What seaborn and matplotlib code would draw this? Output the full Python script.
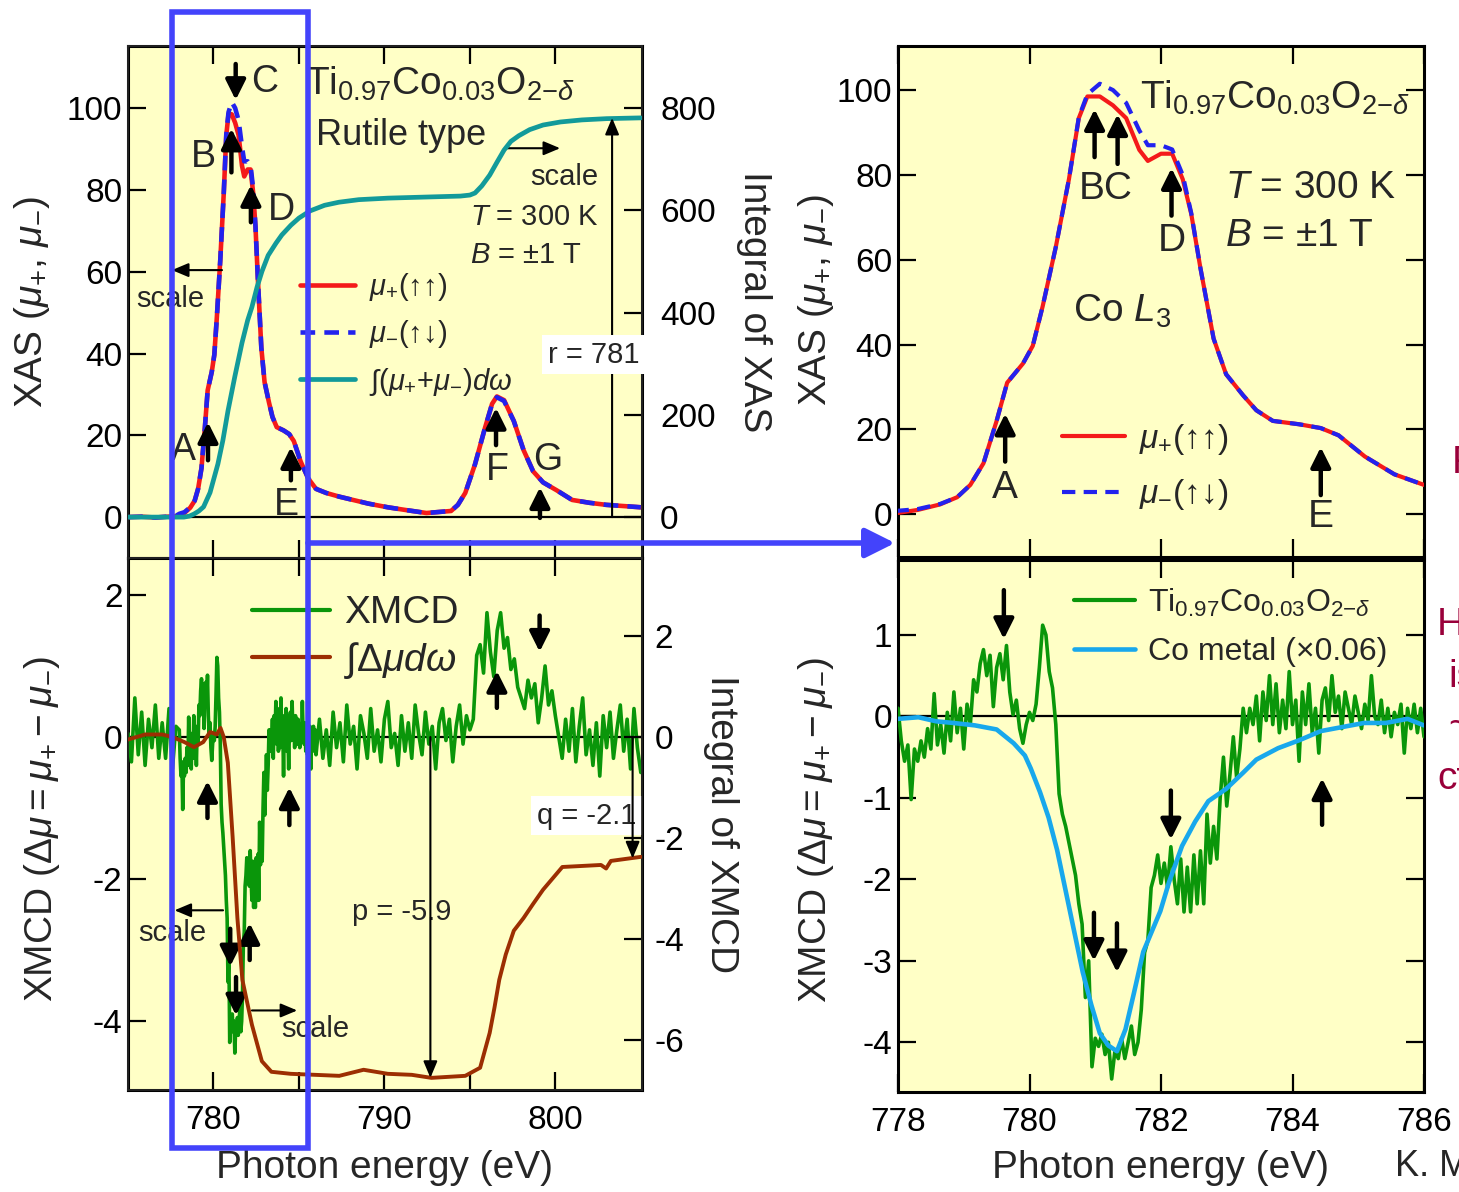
import numpy as np
import matplotlib
matplotlib.use("Agg")
import matplotlib.pyplot as plt
from matplotlib.lines import Line2D
from matplotlib.patches import Rectangle, FancyArrowPatch
import seaborn as sns

sns.set_theme(style="ticks")
plt.rcParams.update({
    "font.family": ["Liberation Sans", "DejaVu Sans"],
    "mathtext.fontset": "custom",
    "mathtext.rm": "Liberation Sans",
    "mathtext.it": "Liberation Sans:italic",
    "mathtext.bf": "Liberation Sans:bold",
    "axes.unicode_minus": False,
})

# ---------------- data ----------------
# Co L2,3 XAS for both magnetization directions (photon energy in eV)
xas_energy = [775.0, 775.8, 776.6, 777.3, 777.8, 778.0, 778.3, 778.64, 778.9, 779.1,
              779.3, 779.5, 779.66, 779.9, 780.05, 780.2, 780.4, 780.6, 780.75, 780.88,
              781.07, 781.27, 781.47, 781.67, 781.8, 782.0, 782.17, 782.33, 782.46, 782.6,
              782.8, 782.99, 783.25, 783.45, 783.7, 784.1, 784.43, 784.7, 785.1, 785.55,
              786.0, 786.6, 787.36, 789.06, 790.2, 791.3, 792.46, 793.9, 794.3, 794.73,
              795.3, 795.87, 796.3, 796.58, 797.0, 797.57, 798.14, 798.7, 799.28, 800.1,
              800.98, 802.0, 802.97, 804.0, 805.0]
mu_plus = [0.0, 0.1, -0.1, 0.1, 0.2, 0.3, 1.0, 2.3, 4.0, 6.9,
           12.0, 22.0, 31.0, 35.5, 39.7, 49.0, 63.0, 79.0, 93.4, 98.5,
           98.5, 96.4, 93.4, 85.9, 83.3, 85.0, 85.0, 79.0, 70.8, 58.0,
           41.4, 33.0, 28.0, 24.5, 22.0, 21.2, 20.3, 18.6, 13.6, 9.4,
           6.9, 5.9, 5.0, 3.3, 2.4, 1.7, 1.0, 1.5, 3.0, 5.9,
           12.9, 21.6, 27.7, 29.5, 28.6, 23.5, 16.4, 11.2, 8.5, 6.5,
           4.2, 3.5, 3.0, 2.7, 2.4]
mu_minus = [0.0, 0.1, -0.1, 0.1, 0.3, 0.8, 1.2, 2.4, 4.0, 6.9,
            12.0, 22.0, 31.0, 35.5, 39.7, 49.0, 63.0, 79.0, 93.6, 99.0,
            101.5, 100.0, 97.0, 90.5, 87.0, 87.0, 86.0, 80.0, 71.0, 58.0,
            41.4, 33.0, 28.0, 24.5, 22.0, 21.2, 20.3, 18.6, 13.6, 9.4,
            6.9, 5.9, 5.0, 3.3, 2.4, 1.7, 1.0, 1.5, 3.0, 5.9,
            12.9, 21.6, 27.7, 29.3, 28.4, 23.5, 16.4, 11.2, 8.5, 6.5,
            4.2, 3.5, 3.0, 2.7, 2.4]

# running integral of mu_+ + mu_-
int_xas_energy = [775.0, 778.27, 778.6, 778.86, 779.15, 779.42, 779.8, 780.26, 780.55, 780.85,
                  781.25, 781.67, 782.0, 782.25, 782.55, 782.84, 783.2, 783.66, 784.0, 784.53,
                  785.0, 785.65, 786.5, 787.34, 788.5, 790.21, 792.3, 794.45, 795.0, 795.3,
                  795.7, 796.16, 796.6, 797.0, 797.4, 797.86, 798.5, 799.28, 800.3, 801.55,
                  803.0, 805.0]
int_xas = [0, 0, 2, 6, 12, 20, 48, 104, 150, 208,
           275, 341, 385, 411, 450, 481, 512, 536, 552, 571,
           585, 599, 610, 616, 621, 624, 626, 628, 630, 634,
           648, 669, 695, 718, 735, 746, 758, 767, 773, 777,
           779.5, 781]

# XMCD = mu_+ - mu_-, sampled coarsely below/above the L3 edge and finely across it
xmcd_energy = np.concatenate([np.linspace(775.0, 777.8, 15),
                              np.linspace(778.0, 786.0, 161),
                              np.linspace(786.2, 805.0, 95)])
xmcd_pre = [0.05, -0.35, 0.55, -0.25, 0.35, -0.40, 0.25, -0.15, 0.45, -0.30,
            0.20, -0.30, 0.40, -0.45, 0.15]
xmcd_l3 = [0.10, -0.30, -0.55, -0.35, -1.02, -0.40, -0.55, -0.30, -0.50, -0.15,
           -0.40, 0.28, -0.35, -0.10, -0.45, 0.05, -0.30, 0.30, -0.20, 0.10,
           -0.40, 0.15, -0.10, 0.45, 0.30, 0.65, 0.82, 0.50, 0.75, 0.12,
           0.60, 0.77, 0.45, 0.87, 0.30, 0.02, 0.20, -0.15, -0.33, -0.10,
           0.05, -0.05, 0.15, 0.60, 1.12, 1.00, 0.55, 0.35, -0.10, -0.95,
           -1.20, -1.35, -1.55, -1.75, -1.95, -2.30, -2.55, -3.45, -3.00, -4.30,
           -3.95, -4.05, -3.90, -4.15, -4.00, -4.45, -4.10, -4.20, -3.95, -4.20,
           -4.00, -3.80, -4.15, -4.00, -3.60, -2.90, -2.75, -2.10, -1.95, -1.70,
           -2.05, -1.80, -2.10, -1.60, -2.00, -2.30, -1.75, -2.40, -1.85, -2.40,
           -1.70, -2.30, -1.65, -2.30, -1.20, -1.80, -1.35, -1.75, -1.00, -0.50,
           -1.10, -0.70, -0.25, -0.75, -0.40, 0.10, -0.20, 0.10, -0.10, 0.25,
           -0.30, 0.30, -0.05, 0.50, -0.10, 0.40, -0.20, 0.20, -0.15, 0.55,
           -0.10, 0.20, -0.55, 0.30, -0.10, 0.40, -0.20, 0.10, -0.45, 0.20,
           0.35, -0.05, 0.50, 0.05, 0.25, -0.15, 0.30, 0.10, -0.10, 0.25,
           0.05, -0.15, 0.15, -0.05, 0.50, 0.00, -0.10, 0.20, -0.20, 0.10,
           -0.25, 0.05, -0.10, 0.15, -0.45, 0.10, -0.15, 0.15, -0.20, 0.10,
           -0.25]
xmcd_post = [0.25, -0.30, 0.10, -0.40, 0.35, -0.15, 0.20, -0.35, 0.45, -0.10,
             0.15, -0.45, 0.30, 0.05, -0.30, 0.40, -0.20, 0.10, -0.35, 0.25,
             0.50, -0.15, 0.05, -0.40, 0.30, -0.20, 0.20, -0.30, 0.45, 0.05,
             -0.25, 0.35, -0.10, 0.15, -0.45, 0.20, 0.40, -0.05, 0.25, -0.35,
             0.15, 0.45, -0.10, 0.30, 0.10,
             0.25, 1.15, 1.30, 0.90, 1.75, 1.20, 0.85, 1.50, 1.75, 1.25,
             1.40, 0.95, 1.10, 0.70, 0.55, 0.40, 0.80, 0.55, 0.75, 0.20,
             0.55, 1.00, 0.45, 0.65, 0.30, 0.00,
             -0.30, 0.25, -0.20, 0.40, -0.35, 0.15, 0.55, -0.25, 0.10, -0.40,
             0.20, -0.55, 0.30, -0.15, 0.35, -0.30, 0.10, 0.45, -0.20, 0.25,
             -0.45, 0.40, -0.15, -0.50]
xmcd = np.array(xmcd_pre + xmcd_l3 + xmcd_post)

# running integral of the XMCD
int_xmcd_energy = [775.0, 776.0, 777.0, 777.6, 778.3, 778.86, 779.4, 779.8, 780.2, 780.41,
                   780.6, 780.84, 781.12, 781.4, 781.69, 782.25, 782.83, 783.39, 784.52, 787.36,
                   788.78, 790.2, 791.6, 792.75, 794.73, 795.6, 796.16, 796.44, 796.72, 797.1,
                   797.57, 798.14, 798.7, 799.28, 800.41, 802.67, 802.97, 803.25, 805.0]
int_xmcd = [-0.05, 0.05, 0.05, 0.0, -0.1, -0.2, -0.1, 0.1, 0.05, 0.18,
            0.0, -0.51, -1.97, -3.58, -4.8, -5.69, -6.41, -6.62, -6.66, -6.7,
            -6.58, -6.66, -6.68, -6.74, -6.7, -6.54, -5.85, -5.35, -4.8, -4.3,
            -3.83, -3.58, -3.3, -3.02, -2.57, -2.53, -2.6, -2.45, -2.37]

# Co metal reference XMCD (scaled by 0.06)
co_energy = [778.0, 778.31, 778.58, 778.84, 779.17, 779.5, 779.76, 779.93, 780.02, 780.16,
             780.29, 780.42, 780.55, 780.68, 780.81, 780.94, 781.07, 781.2, 781.33, 781.46,
             781.59, 781.73, 781.86, 781.99, 782.12, 782.32, 782.52, 782.72, 782.99, 783.25,
             783.45, 783.78, 784.11, 784.43, 784.76, 785.09, 785.42, 785.75, 786.0]
co_xmcd = [-0.03, -0.01, -0.06, -0.08, -0.11, -0.16, -0.33, -0.48, -0.64, -0.93,
           -1.24, -1.64, -2.14, -2.64, -3.14, -3.54, -3.89, -4.04, -4.11, -3.84,
           -3.39, -2.89, -2.64, -2.39, -2.04, -1.59, -1.29, -1.04, -0.89, -0.69,
           -0.53, -0.39, -0.29, -0.18, -0.13, -0.08, -0.08, -0.03, -0.11]

r_value = 781
p_label, q_label = -5.9, -2.1
p_depth, q_depth = -6.74, -2.40

# ---------------- styling ----------------
RED, BLUE, TEAL = "#f41a1a", "#2222ee", "#129a9a"
GREEN, BROWN, CYAN = "#0a960a", "#9c2e02", "#18a8ec"
BG = "#ffffc6"
FRAME_BLUE = "#4343fb"
MAROON = "#99003a"

W, H = 1459, 1192
fig = plt.figure(figsize=(W / 100, H / 100), dpi=100)


def add_axes_px(l, t, r, b):
    return fig.add_axes([l / W, 1 - b / H, (r - l) / W, (b - t) / H])


def frame(ax, right=True):
    ax.set_facecolor(BG)
    for s in ax.spines.values():
        s.set_linewidth(2.2)
        s.set_color("black")
    ax.tick_params(direction="in", length=13, width=1.6, labelsize=24,
                   top=True, bottom=True, left=True, right=right, colors="black")
    ax.tick_params(axis="x", pad=11)
    ax.tick_params(axis="y", pad=4)
    ax.grid(False)


def twin_frame(ax, pad):
    ax.tick_params(axis="y", direction="in", length=13, width=1.6, labelsize=24, pad=pad,
                   right=True, left=False, colors="black")
    ax.grid(False)


BIG = dict(arrowstyle="-|>,head_length=0.6,head_width=0.3", lw=3.2, color="black",
           mutation_scale=20, shrinkA=0, shrinkB=0)
SMALL = dict(arrowstyle="-|>,head_length=1.0,head_width=0.42", lw=1.5, color="black",
             mutation_scale=10, shrinkA=0, shrinkB=0)


def varrow(ax, x, y0, y1, props=BIG):
    ax.annotate("", xy=(x, y1), xytext=(x, y0), arrowprops=props)


def harrow(ax, y, x0, x1, props=SMALL):
    ax.annotate("", xy=(x1, y), xytext=(x0, y), arrowprops=props)


def line(ax, x, y, color, lw, dashes=None, z=3):
    sns.lineplot(x=x, y=y, ax=ax, color=color, linewidth=lw, estimator=None,
                 sort=False, legend=False, zorder=z)
    ln = ax.lines[-1]
    if dashes is not None:
        ln.set_dashes(dashes)
    return ln


formula = r"Ti$_{0.97}$Co$_{0.03}$O$_{2\mathrm{-}\delta}$"
mu_p_lab = r"$\mu_{+}$(↑↑)"
mu_m_lab = r"$\mu_{-}$(↑↓)"
DASH = (3.2, 2.0)

# ---------------- top left: XAS + integral ----------------
ax1 = add_axes_px(128, 46, 642, 558)
frame(ax1, right=False)
ax1.axhline(0, color="black", lw=1.6, zorder=1)
line(ax1, xas_energy, mu_plus, RED, 3.3)
line(ax1, xas_energy, mu_minus, BLUE, 3.3, DASH)
ax1.set_xlim(775.0, 805.07)
ax1.set_ylim(-10.0, 115.2)
ax1.set_xticks([780, 785, 790, 795, 800])
ax1.set_xticklabels([])
ax1.set_yticks([0, 20, 40, 60, 80, 100])
ax1.set_xlabel("")
ax1.set_ylabel(r"XAS ($\mu_{+}$, $\mu_{-}$)", fontsize=28)
ax1.yaxis.set_label_coords(-0.148, 0.5)

ax1r = ax1.twinx()
twin_frame(ax1r, 13)
line(ax1r, int_xas_energy, int_xas, TEAL, 3.4)
ax1r.set_ylim(-80, 921.6)
ax1r.set_yticks([0, 200, 400, 600, 800])
ax1r.set_ylabel("Integral of XAS", fontsize=28, rotation=270, va="bottom")
ax1r.yaxis.set_label_coords(1.183, 0.5)

for x, y0, y1 in [(781.3, 110.8, 102.0)]:
    varrow(ax1, x, y0, y1)
for x, y0, y1 in [(781.05, 84.3, 95.0), (782.19, 72.1, 81.2), (779.68, 13.9, 23.2),
                  (784.53, 9.0, 17.1), (796.53, 17.6, 26.7), (799.1, -0.2, 7.3)]:
    varrow(ax1, x, y0, y1)
for s, x, y in [("C", 783.0, 106.4), ("B", 779.4, 88.0), ("D", 784.0, 75.0), ("A", 778.22, 16.4),
                ("E", 784.24, 2.9), ("F", 796.59, 11.5), ("G", 799.57, 13.9)]:
    ax1.text(x, y, s, fontsize=27, ha="center", va="center")
ax1.text(785.35, 103.2, formula, fontsize=28, ha="left", va="baseline")
ax1.text(786.0, 91.0, "Rutile type", fontsize=26, ha="left", va="baseline")
harrow(ax1, 60.4, 780.5, 777.57)
ax1.text(777.45, 51.3, "scale", fontsize=21, ha="center", va="baseline")
harrow(ax1, 90.2, 797.06, 800.28)
ax1.text(800.51, 81.2, "scale", fontsize=21, ha="center", va="baseline")
ax1.text(795.01, 71.4, r"$T$ = 300 K", fontsize=21, ha="left", va="baseline")
ax1.text(795.01, 62.2, r"$B$ = ±1 T", fontsize=21, ha="left", va="baseline")
varrow(ax1r, 803.32, 0, r_value, SMALL)
ax1r.text(799.57, 37.8 * 8, f"r = {r_value}", fontsize=21, ha="left", va="baseline",
          bbox=dict(facecolor="white", edgecolor="none", pad=4), zorder=5)

h1 = [Line2D([], [], color=RED, lw=3.3),
      Line2D([], [], color=BLUE, lw=3.3, dashes=DASH),
      Line2D([], [], color=TEAL, lw=3.4)]
ax1r.legend(h1, [mu_p_lab, mu_m_lab, r"∫($\mu_{+}$+$\mu_{-}$)$d\omega$"],
            loc="upper left", bbox_to_anchor=(0.3346, 0.56), frameon=False,
            fontsize=21, handlelength=1.9, handletextpad=0.45,
            labelspacing=0.52, borderpad=0, borderaxespad=0)

# ---------------- bottom left: XMCD + integral ----------------
ax2 = add_axes_px(128, 558, 642, 1090)
frame(ax2, right=False)
ax2.axhline(0, color="black", lw=1.6, zorder=1)
line(ax2, xmcd_energy, xmcd, GREEN, 2.6)
ax2.set_xlim(775.0, 805.07)
ax2.set_ylim(-4.97, 2.52)
ax2.set_xticks([780, 785, 790, 795, 800])
ax2.set_xticklabels(["780", "", "790", "", "800"])
ax2.set_yticks([-4, -2, 0, 2])
ax2.set_xlabel("Photon energy (eV)", fontsize=28)
ax2.xaxis.set_label_coords(0.5, -0.113)
ax2.xaxis.label.set_va("top")
ax2.set_ylabel(r"XMCD ($\Delta\mu = \mu_{+} - \mu_{-}$)", fontsize=28)
ax2.yaxis.set_label_coords(-0.128, 0.49)

ax2r = ax2.twinx()
twin_frame(ax2r, 9)
line(ax2r, int_xmcd_energy, int_xmcd, BROWN, 2.8)
ax2r.set_ylim(-6.98, 3.54)
ax2r.set_yticks([-6, -4, -2, 0, 2])
ax2r.set_ylabel("Integral of XMCD", fontsize=28, rotation=270, va="bottom")
ax2r.yaxis.set_label_coords(1.118, 0.5)

for x, y0, y1 in [(779.65, -1.14, -0.62), (784.44, -1.24, -0.71), (796.58, 0.41, 0.93),
                  (799.08, 1.71, 1.2), (780.98, -2.7, -3.23), (782.12, -3.14, -2.62),
                  (781.32, -3.38, -3.92)]:
    varrow(ax2, x, y0, y1)
harrow(ax2, -2.44, 780.56, 777.72)
ax2.text(777.57, -2.87, "scale", fontsize=21, ha="center", va="baseline")
harrow(ax2, -3.85, 782.25, 784.9)
ax2.text(785.97, -4.23, "scale", fontsize=21, ha="center", va="baseline")
varrow(ax2r, 792.69, 0, p_depth, SMALL)
ax2.text(791.03, -2.58, f"p = {p_label}", fontsize=21, ha="center", va="baseline")
varrow(ax2r, 804.52, 0, q_depth, SMALL)
ax2.text(801.83, -1.22, f"q = {q_label}", fontsize=21, ha="center", va="baseline",
         bbox=dict(facecolor="white", edgecolor="none", pad=4), zorder=5)

h2 = [Line2D([], [], color=GREEN, lw=3.0), Line2D([], [], color=BROWN, lw=3.0)]
ax2r.legend(h2, ["XMCD", r"∫$\Delta\mu d\omega$"], loc="upper left",
            bbox_to_anchor=(0.241, 0.93), frameon=False, fontsize=28, handlelength=2.0,
            handletextpad=0.38, labelspacing=0.22, borderpad=0, borderaxespad=0)

# ---------------- top right: XAS at the Co L3 edge ----------------
ax3 = add_axes_px(898, 46, 1424, 557)
frame(ax3, right=True)
line(ax3, xas_energy, mu_plus, RED, 3.0)
line(ax3, xas_energy, mu_minus, BLUE, 3.0, DASH)
ax3.set_xlim(778, 786)
ax3.set_ylim(-10.1, 110.4)
ax3.set_xticks([778, 780, 782, 784, 786])
ax3.set_xticklabels([])
ax3.set_yticks([0, 20, 40, 60, 80, 100])
ax3.set_xlabel("")
ax3.set_ylabel(r"XAS ($\mu_{+}$, $\mu_{-}$)", fontsize=28)
ax3.yaxis.set_label_coords(-0.118, 0.503)

for x, y0, y1 in [(780.99, 84.2, 95.5), (781.34, 82.6, 94.3), (782.16, 70.4, 81.6),
                  (779.63, 12.4, 23.7), (784.43, 4.5, 15.8)]:
    varrow(ax3, x, y0, y1)
ax3.text(781.16, 76.7, "BC", fontsize=28, ha="center", va="center")
ax3.text(782.16, 64.5, "D", fontsize=28, ha="center", va="center")
ax3.text(779.63, 6.1, "A", fontsize=28, ha="center", va="center")
ax3.text(784.43, -0.7, "E", fontsize=28, ha="center", va="center")
ax3.text(781.68, 95.5, formula, fontsize=28, ha="left", va="baseline")
ax3.text(782.97, 74.6, r"$T$ = 300 K", fontsize=28, ha="left", va="baseline")
ax3.text(782.97, 63.3, r"$B$ = ±1 T", fontsize=28, ha="left", va="baseline")
ax3.text(780.66, 45.5, r"Co $L_3$", fontsize=28, ha="left", va="baseline")

h3 = [Line2D([], [], color=RED, lw=3.0), Line2D([], [], color=BLUE, lw=3.0, dashes=DASH)]
ax3.legend(h3, [mu_p_lab, mu_m_lab], loc="upper left", bbox_to_anchor=(0.312, 0.265),
           frameon=False, fontsize=24, handlelength=1.9, handletextpad=0.4,
           labelspacing=0.62, borderpad=0, borderaxespad=0)

# ---------------- bottom right: XMCD vs Co metal ----------------
ax4 = add_axes_px(898, 560, 1424, 1092)
frame(ax4, right=True)
ax4.axhline(0, color="black", lw=1.6, zorder=1)
line(ax4, xmcd_energy, xmcd, GREEN, 2.6)
line(ax4, co_energy, co_xmcd, CYAN, 3.3, z=4)
ax4.set_xlim(778, 786)
ax4.set_ylim(-4.61, 1.92)
ax4.set_xticks([778, 780, 782, 784, 786])
ax4.set_yticks([-4, -3, -2, -1, 0, 1])
ax4.set_xlabel("Photon energy (eV)", fontsize=28)
ax4.xaxis.set_label_coords(0.5, -0.109)
ax4.xaxis.label.set_va("top")
ax4.set_ylabel(r"XMCD ($\Delta\mu = \mu_{+} - \mu_{-}$)", fontsize=28)
ax4.yaxis.set_label_coords(-0.118, 0.492)

for x, y0, y1 in [(779.61, 1.55, 0.95), (780.98, -2.41, -3.0), (781.33, -2.54, -3.14),
                  (782.15, -0.91, -1.51), (784.45, -1.33, -0.76)]:
    varrow(ax4, x, y0, y1)

h4 = [Line2D([], [], color=GREEN, lw=3.0), Line2D([], [], color=CYAN, lw=3.3)]
ax4.legend(h4, [formula, "Co metal (×0.06)"], loc="upper left", bbox_to_anchor=(0.335, 0.95),
           frameon=False, fontsize=23, handlelength=1.9, handletextpad=0.4,
           labelspacing=0.58, borderpad=0, borderaxespad=0)

# ---------------- zoom window and pointer ----------------
fig.add_artist(Rectangle((172 / W, 1 - 1148 / H), 136 / W, 1136 / H, transform=fig.transFigure,
                         fill=False, edgecolor=FRAME_BLUE, lw=4.0, zorder=20))
fig.add_artist(FancyArrowPatch((308 / W, 1 - 543 / H), (895 / W, 1 - 543 / H),
                               transform=fig.transFigure, color=FRAME_BLUE, lw=4.0,
                               arrowstyle="-|>,head_length=0.9,head_width=0.45",
                               mutation_scale=20, shrinkA=0, shrinkB=0, zorder=20))

# neighbouring caption text at the page edge
for s, x, y in [("F", 1452, 463), ("H", 1437, 625), ("is", 1448, 677), ("~", 1448, 726),
                ("ct", 1437, 779)]:
    fig.text(x / W, 1 - y / H, s, color=MAROON, fontsize=28, ha="left", va="center")
fig.text(1395 / W, 1 - 1166 / H, "K. M", fontsize=26, ha="left", va="center")

fig.savefig("out.png", dpi=100, facecolor="white")
